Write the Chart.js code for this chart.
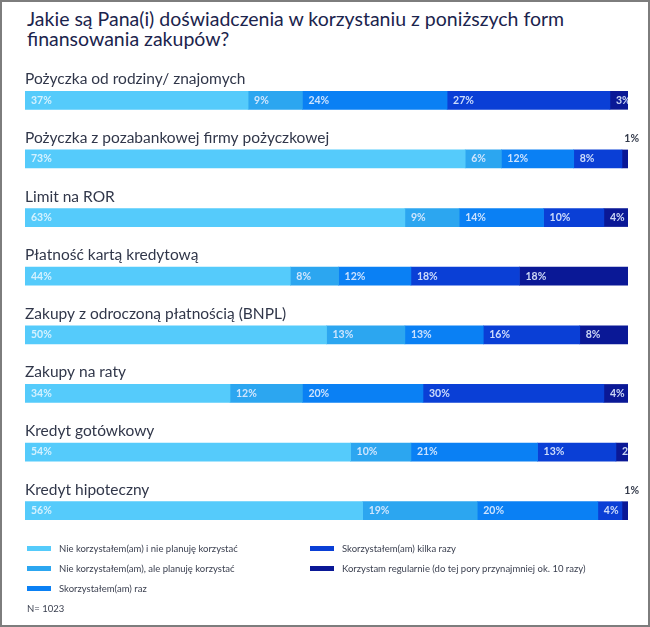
<!DOCTYPE html>
<html lang="pl">
<head>
  <meta charset="UTF-8">
  <title>Formy finansowania zakupów</title>
  <script src="https://cdn.jsdelivr.net/npm/chart.js"></script>
  <style>
    html, body {
      margin: 0; padding: 0;
      width: 650px; height: 627px;
      background: #fff; overflow: hidden;
      font-family: Lato, sans-serif;
      position: relative;
    }
    .frame {
      position: absolute; left: 0; top: 0;
      width: 650px; height: 627px; box-sizing: border-box;
      border: 2px solid #7d7d7d;
    }
    .title {
      position: absolute; left: 27px; top: 9px;
      font-size: 19.5px; line-height: 20px; color: #1b244d;
      white-space: nowrap;
    }
    .chart-box {
      position: absolute; left: 0; top: 66px;
      width: 650px; height: 484px;
    }
    .legend {
      position: absolute; left: 27px; top: 538px;
      display: grid; grid-template-columns: 283px auto;
      grid-template-rows: 20px 20px 20px; grid-auto-flow: column;
      font-size: 9.5px; color: #3a3f4f;
    }
    .legend div { display: flex; align-items: center; }
    .legend span.sw { width: 24px; height: 5px; margin-right: 8px; }
    .note {
      position: absolute; left: 27px; top: 603px;
      font-size: 9.5px; color: #3a3f4f;
    }
  </style>
</head>
<body>
  <div class="frame"></div>
  <div class="title">Jakie są Pana(i) doświadczenia w korzystaniu z poniższych form<br>finansowania zakupów?</div>
  <div class="chart-box"><canvas id="chart"></canvas></div>
  <div class="legend" id="legend"></div>
  <div class="note">N= 1023</div>

  <script>
    // dane (%)
    const categories = [
      'Pożyczka od rodziny/ znajomych',
      'Pożyczka z pozabankowej firmy pożyczkowej',
      'Limit na ROR',
      'Płatność kartą kredytową',
      'Zakupy z odroczoną płatnością (BNPL)',
      'Zakupy na raty',
      'Kredyt gotówkowy',
      'Kredyt hipoteczny'
    ];
    const seriesNames = [
      'Nie korzystałem(am) i nie planuję korzystać',
      'Nie korzystałem(am), ale planuję korzystać',
      'Skorzystałem(am) raz',
      'Skorzystałem(am) kilka razy',
      'Korzystam regularnie (do tej pory przynajmniej ok. 10 razy)'
    ];
    const nieNiePlanuje = [37, 73, 63, 44, 50, 34, 54, 56];
    const niePlanuje    = [9, 6, 9, 8, 13, 12, 10, 19];
    const raz           = [24, 12, 14, 12, 13, 20, 21, 20];
    const kilkaRazy     = [27, 8, 10, 18, 16, 30, 13, 4];
    const regularnie    = [3, 1, 4, 18, 8, 4, 2, 1];
    const colors = ['#55cbfb', '#2ca6f0', '#0a80f4', '#0a3fd6', '#0a1896'];

    const seriesData = [nieNiePlanuje, niePlanuje, raz, kilkaRazy, regularnie];

    // etykiety kategorii nad paskami + procenty w segmentach
    const labelsPlugin = {
      id: 'labels',
      afterDatasetsDraw(chart) {
        const ctx = chart.ctx;
        const area = chart.chartArea;
        const first = chart.getDatasetMeta(0).data;
        first.forEach((bar, i) => {
          ctx.save();
          ctx.textBaseline = 'alphabetic';
          ctx.fillStyle = '#31374a';
          ctx.font = '14.5px Lato';
          ctx.translate(area.left, bar.y - bar.height / 2 - 7);
          ctx.scale(1.07, 1);
          ctx.fillText(categories[i], 0, 0);
          ctx.restore();
        });

        chart.data.datasets.forEach((ds, d) => {
          const meta = chart.getDatasetMeta(d);
          meta.data.forEach((bar, i) => {
            const v = ds.data[i];
            const txt = v + '%';
            ctx.save();
            ctx.font = 'bold 10.5px Lato';
            if (v <= 1) {
              ctx.fillStyle = '#333a4a';
              ctx.textAlign = 'right';
              ctx.textBaseline = 'alphabetic';
              ctx.fillText(txt, area.right + 11, bar.y - bar.height / 2 - 8);
            } else {
              ctx.beginPath();
              ctx.rect(area.left, bar.y - bar.height / 2, area.right - area.left, bar.height);
              ctx.clip();
              ctx.fillStyle = d === 0 ? 'rgba(235,248,255,0.85)' : 'rgba(225,236,255,0.9)';
              ctx.textBaseline = 'middle';
              ctx.fillText(txt, Math.min(bar.base, bar.x) + 6, bar.y);
            }
            ctx.restore();
          });
        });
      }
    };

    const chart = new Chart(document.getElementById('chart'), {
      type: 'bar',
      data: {
        labels: categories,
        datasets: seriesData.map((arr, k) => ({
          label: seriesNames[k],
          data: arr,
          backgroundColor: colors[k],
          barThickness: 18,
          borderWidth: 0
        }))
      },
      options: {
        indexAxis: 'y',
        responsive: true,
        maintainAspectRatio: false,
        animation: false,
        layout: { padding: { left: 25, right: 22, top: 5, bottom: 10 } },
        plugins: {
          legend: { display: false },
          tooltip: { enabled: false }
        },
        scales: {
          x: { stacked: true, min: 0, max: 100, display: false },
          y: { stacked: true, display: false }
        }
      },
      plugins: [labelsPlugin]
    });

    // legenda HTML
    const legend = document.getElementById('legend');
    seriesNames.forEach((name, k) => {
      const item = document.createElement('div');
      item.innerHTML = '<span class="sw" style="background:' + colors[k] + '"></span>' + name;
      legend.appendChild(item);
    });
  </script>
</body>
</html>
